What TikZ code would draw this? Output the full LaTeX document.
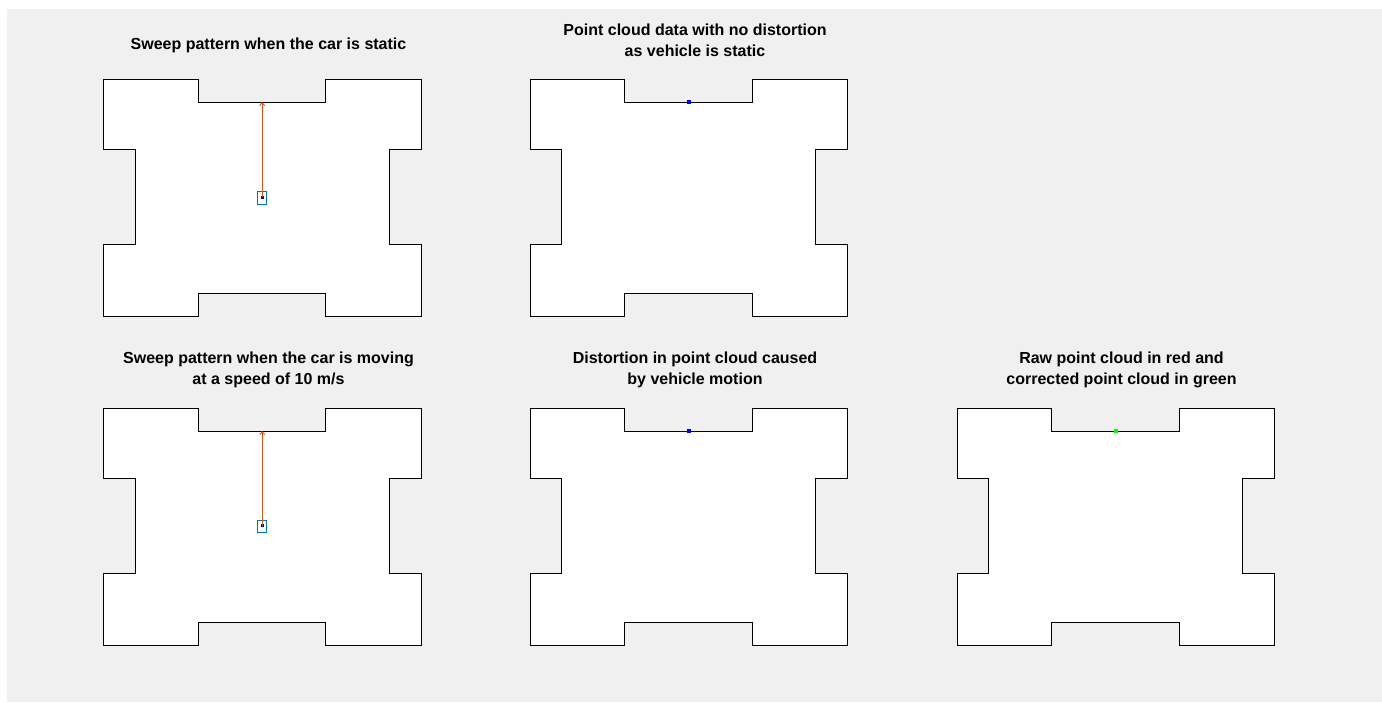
\documentclass[tikz,border=0pt]{standalone}
\usepackage{fontspec}
\setmainfont{Liberation Sans}
\usetikzlibrary{positioning, arrows.meta}
\definecolor{figgray}{HTML}{F0F0F0}
\definecolor{carblue}{HTML}{0072BD}
\definecolor{rayorange}{HTML}{D95319}
\tikzset{
title/.style={font=\fontsize{16}{21}\selectfont\bfseries, align=center, inner sep=0pt},
room/.pic={
    \draw[black, line width=0.9pt, fill=white]
      (0,0) -- (94.8,0) -- (94.8,23) -- (222.2,23) -- (222.2,0) -- (317.5,0)
      -- (317.5,70.3) -- (285.5,70.3) -- (285.5,165.7) -- (317.5,165.7)
      -- (317.5,237.7) -- (222.2,237.7) -- (222.2,214) -- (94.8,214)
      -- (94.8,237.7) -- (0,237.7) -- (0,165.7) -- (31.5,165.7)
      -- (31.5,70.3) -- (0,70.3) -- cycle;
},
car/.style={draw=carblue, line width=0.9pt, minimum width=9pt, minimum height=12.5pt, inner sep=0pt},
lidar/.style={fill=blue!75!black, minimum size=3pt, inner sep=0pt},
hit/.style={minimum size=4pt, inner sep=0pt},
ray/.style={rayorange, line width=0.9pt, -{Straight Barb[length=3pt,width=5pt]}},
}

\begin{document}
\begin{tikzpicture}[x=1pt, y=-1pt]
    \useasboundingbox (0,0) rectangle (1382,702);
    \fill[figgray] (7,9) rectangle (1382,702);

    %rooms
    \pic at (103.5,79) {room};
    \pic at (530,79) {room};
    \pic at (103.5,408) {room};
    \pic at (530,408) {room};
    \pic at (957,408) {room};

    %titles
    \node[title] (t1) at (268.5,45.5) {Sweep pattern when the car is static};
    \node[title] (t2) at (695,40.5) {Point cloud data with no distortion\\as vehicle is static};
    \node[title] (t3) at (268.5,370) {Sweep pattern when the car is moving\\at a speed of 10 m/s};
    \node[title] (t4) at (695,370) {Distortion in point cloud caused\\by vehicle motion};
    \node[title] (t5) at (1121.5,370) {Raw point cloud in red and\\corrected point cloud in green};

    %cars and sweep rays
    \node[car] (c1) at (262,197.7) {};
    \node[lidar] (s1) at (262.2,197) {};
    \coordinate (w1) at (262.2,102);
    \draw[ray] (s1.center) -- (w1);

    \node[car] (c2) at (262,526.2) {};
    \node[lidar] (s2) at (262.2,525.5) {};
    \coordinate (w2) at (262.2,431);
    \draw[ray] (s2.center) -- (w2);

    %point cloud
    \node[hit, fill=blue] (p1) at (688.5,102) {};
    \node[hit, fill=blue] (p2) at (688.5,431) {};
    \node[hit, fill=green] (p3) at (1115.5,431) {};

\end{tikzpicture}
\end{document}
